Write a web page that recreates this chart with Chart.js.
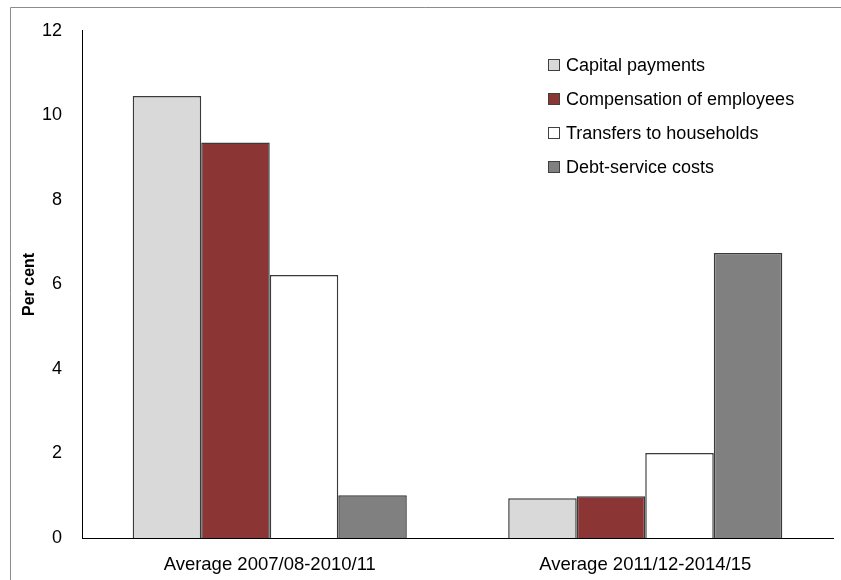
<!DOCTYPE html>
<html>
<head>
<meta charset="utf-8">
<script src="https://cdn.jsdelivr.net/npm/chart.js@4/dist/chart.umd.min.js"></script>
<style>
  html, body { margin: 0; padding: 0; background: #ffffff; }
  #wrap { position: relative; width: 841px; height: 580px; }
</style>
</head>
<body>
<div id="wrap"><canvas id="chart" width="841" height="580"></canvas></div>
<script>
// Spending growth by economic classification, per cent
const periods = ['Average 2007/08-2010/11', 'Average 2011/12-2014/15'];
const seriesNames = ['Capital payments', 'Compensation of employees', 'Transfers to households', 'Debt-service costs'];
const capitalPayments = [10.46, 0.94];
const compensationOfEmployees = [9.36, 0.99];
const transfersToHouseholds = [6.22, 2.01];
const debtServiceCosts = [1.01, 6.74];
const yTicks = [0, 2, 4, 6, 8, 10, 12];

const fills = ['#d9d9d9', '#8b3535', '#ffffff', '#808080'];
const values = [capitalPayments, compensationOfEmployees, transfersToHouseholds, debtServiceCosts];
const FONT = '"Liberation Sans", Arial, sans-serif';

// Thin grey frame around the figure
const framePlugin = {
  id: 'frame',
  beforeDraw(chart) {
    const ctx = chart.ctx;
    ctx.save();
    ctx.strokeStyle = '#8c8c8c';
    ctx.lineWidth = 1;
    ctx.beginPath();
    ctx.moveTo(10.5, chart.height);
    ctx.lineTo(10.5, 7.5);
    ctx.lineTo(chart.width, 7.5);
    ctx.stroke();
    ctx.restore();
  }
};

// Legend listed inside the plot, upper right
const insideLegend = {
  id: 'insideLegend',
  afterDraw(chart) {
    const ctx = chart.ctx;
    const x0 = 548, y0 = 65, step = 34, box = 12;
    ctx.save();
    ctx.font = '18px ' + FONT;
    ctx.textBaseline = 'middle';
    chart.data.datasets.forEach((ds, i) => {
      const y = y0 + i * step;
      ctx.fillStyle = ds.backgroundColor;
      ctx.fillRect(x0, y - box / 2, box, box);
      ctx.strokeStyle = '#404040';
      ctx.lineWidth = 1;
      ctx.strokeRect(x0 + 0.5, y - box / 2 + 0.5, box - 1, box - 1);
      ctx.fillStyle = '#000000';
      ctx.fillText(ds.label, x0 + 18, y + 1);
    });
    ctx.restore();
  }
};

new Chart(document.getElementById('chart'), {
  type: 'bar',
  data: {
    labels: periods,
    datasets: seriesNames.map((name, i) => ({
      label: name,
      data: values[i],
      backgroundColor: fills[i],
      borderColor: '#3a3a3a',
      borderWidth: 1.5,
      categoryPercentage: 0.73,
      barPercentage: 1.0
    }))
  },
  options: {
    responsive: false,
    animation: false,
    layout: { padding: { left: 0, right: 8, top: 29, bottom: 0 } },
    plugins: {
      legend: { display: false },
      tooltip: { enabled: false }
    },
    scales: {
      x: {
        grid: { display: false, drawTicks: false },
        border: { display: true, color: '#000000', width: 1 },
        ticks: { color: '#000000', font: { family: FONT, size: 18.5 }, padding: 16 },
        afterFit(scale) { scale.height = 42; }
      },
      y: {
        min: 0,
        max: 12,
        afterBuildTicks(scale) { scale.ticks = yTicks.map(v => ({ value: v })); },
        grid: { display: false, drawTicks: false },
        border: { display: true, color: '#000000', width: 1 },
        ticks: { color: '#000000', font: { family: FONT, size: 18 }, padding: 20 },
        title: {
          display: true,
          text: 'Per cent',
          color: '#000000',
          font: { family: FONT, size: 16, weight: 'bold' },
          padding: { top: 20, bottom: 0 }
        },
        afterFit(scale) { scale.width = 82; }
      }
    }
  },
  plugins: [framePlugin, insideLegend]
});
</script>
</body>
</html>
